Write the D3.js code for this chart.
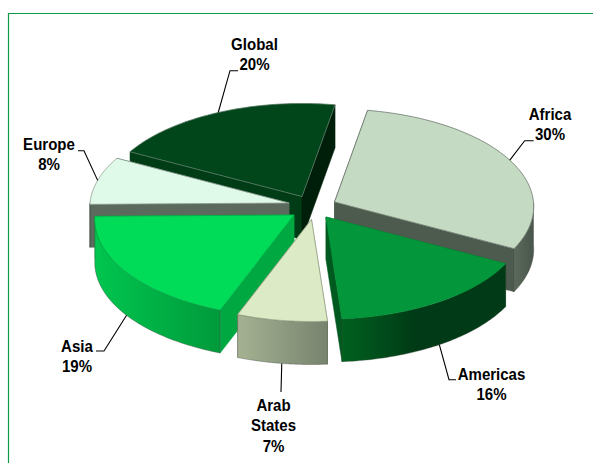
<!DOCTYPE html>
<html>
<head>
<meta charset="utf-8">
<script src="https://cdn.jsdelivr.net/npm/d3@7"></script>
<style>
html,body{margin:0;padding:0;background:#fff;overflow:hidden}
svg{display:block}
text{font-family:"Liberation Sans",Arial,sans-serif;font-weight:700;font-size:16px;fill:#000}
</style>
</head>
<body>
<div id="chart"></div>
<script>
// Shares of the total by region, clockwise from the top of the pie
const categories = ["Africa", "Americas", "Arab States", "Asia", "Europe", "Global"];
const shares = [30, 16, 7, 19, 8, 20];
const labelLines = [["Africa", "30%"], ["Americas", "16%"], ["Arab", "States", "7%"], ["Asia", "19%"], ["Europe", "8%"], ["Global", "20%"]];

// Where each exploded wedge's apex lands on the page
const apexX = [334.5, 326, 311.5, 294, 289, 302];
const apexY = [202, 217, 219.5, 215, 203, 196.5];

const topColors = ["#c4dac2", "#03963a", "#dcebc5", "#00dc58", "#dffae9", "#00461a"];
const edgeColors = ["#6f7a70", "#03963a", "#9aa58c", "#00b048", "#8a9a8e", "#5c7a66"];
const startFaceColors = ["#4d5a4e", "#00591f", "#8a947c", "#00a842", "#5b6a5c", "#003c16"];
const endFaceColors = ["#4d5a4e", "#00591f", "#8a947c", "#00a842", "#5b6a5c", "#001f0b"];
const sideGradients = [
  ["#5b685c", "#4a564b"],
  ["#00611f", "#003a16"],
  ["#a5b292", "#78836e"],
  ["#00c64f", "#009a3b"],
  ["#5f6e60", "#5b6a5c"],
  ["#002a10", "#002a10"]
];

// Label centres, baselines and leader elbows
const labelX = [550, 491.5, 273.5, 77, 49, 254.5];
const labelY = [120, 380, 411, 352, 149.5, 50];
const lineGap = 20.3;
const leaderMid = [[524.7, 140.7], [449, 379.7], [281, 392], [104, 351], [84, 150.7], [230, 70.7]];
const leaderEnd = [[533.7, 140.7], [456, 379.7], [281, 392], [96, 351], [78, 150.7], [238, 70.7]];

const width = 593, height = 463;
const radiusX = 199, radiusY = 97.3, depth = 43, perspective = 0.046;
const firstAngle = 10 * Math.PI / 180;
const frontStart = Math.PI / 2, frontEnd = 3 * Math.PI / 2;

const svg = d3.select("#chart").append("svg").attr("width", width).attr("height", height);

svg.append("path")
  .attr("d", `M8.5,${height}V13.5H${width}`)
  .attr("fill", "none").attr("stroke", "#0b9a45").attr("stroke-width", 1.2);

const defs = svg.append("defs");
sideGradients.forEach((stops, i) => {
  const g = defs.append("linearGradient").attr("id", `side${i}`);
  g.append("stop").attr("offset", "0%").attr("stop-color", stops[0]);
  g.append("stop").attr("offset", i === 1 ? "45%" : "100%").attr("stop-color", stops[1]);
});

const wedges = d3.pie().sort(null).startAngle(firstAngle).endAngle(firstAngle + 2 * Math.PI)(shares);

// Rim point of wedge i at a clockwise angle from the top, with a slight foreshortening toward the back
function rim(i, angle, drop = 0) {
  const back = Math.cos(angle);
  const s = 1 / (1 + perspective * back);
  return [apexX[i] + radiusX * Math.sin(angle) * s, apexY[i] - radiusY * back * s + drop];
}
const line = d3.line();
const arcPoints = (i, a0, a1, drop = 0) =>
  d3.range(0, 61).map(k => rim(i, a0 + (a1 - a0) * k / 60, drop));

// Back wedges first so nearer ones overlap them
const paintOrder = [5, 4, 0, 1, 3, 2];
const groups = svg.selectAll("g.wedge").data(paintOrder).join("g").attr("class", "wedge");

groups.each(function (i) {
  const g = d3.select(this), w = wedges[i];
  const apex = [apexX[i], apexY[i]];
  const apexLow = [apexX[i], apexY[i] + depth];

  const startRim = rim(i, w.startAngle), endRim = rim(i, w.endAngle);
  const face = (p, color) => g.append("path")
    .attr("d", line([apex, p, [p[0], p[1] + depth], apexLow]) + "Z")
    .attr("fill", color).attr("stroke", color).attr("stroke-width", 0.5);
  face(startRim, startFaceColors[i]);
  face(endRim, endFaceColors[i]);

  // The outer wall only shows along the front half of the rim
  const a0 = Math.max(w.startAngle, frontStart), a1 = Math.min(w.endAngle, frontEnd);
  if (a1 > a0) {
    const wallTop = arcPoints(i, a0, a1);
    const wallBottom = arcPoints(i, a0, a1, depth).reverse();
    g.append("path")
      .attr("d", line(wallTop.concat(wallBottom)) + "Z")
      .attr("fill", `url(#side${i})`)
      .attr("stroke", "#3a463b").attr("stroke-width", 0.4);
  }

  g.append("path")
    .attr("d", line([apex].concat(arcPoints(i, w.startAngle, w.endAngle))) + "Z")
    .attr("fill", topColors[i])
    .attr("stroke", edgeColors[i]).attr("stroke-width", 0.8)
    .attr("stroke-linejoin", "round");
});

// Leader lines start at each wedge's mid-angle, on the lower rim for front wedges
const leaderPath = d3.line();
wedges.forEach((w, i) => {
  const mid = (w.startAngle + w.endAngle) / 2;
  const facesFront = Math.cos(mid) < -0.3;
  const from = rim(i, mid, facesFront ? depth : 0);
  svg.append("path")
    .attr("d", leaderPath([from, leaderMid[i], leaderEnd[i]]))
    .attr("fill", "none").attr("stroke", "#000").attr("stroke-width", 1.1);
});

labelLines.forEach((lines, i) => {
  const t = svg.append("g")
    .attr("aria-label", categories[i])
    .attr("transform", `translate(${labelX[i]},${labelY[i]}) scale(0.94,1)`);
  t.selectAll("text").data(lines).join("text")
    .attr("text-anchor", "middle")
    .attr("y", (d, k) => k * lineGap)
    .text(d => d);
});
</script>
</body>
</html>
